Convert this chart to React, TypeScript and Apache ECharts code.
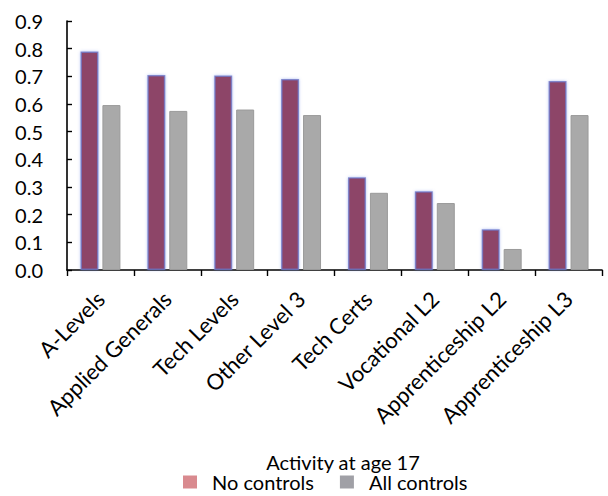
import React, { useEffect, useRef } from "react";
import * as echarts from "echarts";

const categories = [
  "A-Levels",
  "Applied Generals",
  "Tech Levels",
  "Other Level 3",
  "Tech Certs",
  "Vocational L2",
  "Apprenticeship L2",
  "Apprenticeship L3",
];
const noControls = [0.79, 0.705, 0.703, 0.69, 0.335, 0.285, 0.147, 0.683];
const allControls = [0.596, 0.575, 0.58, 0.56, 0.279, 0.242, 0.076, 0.56];
const seriesNames = ["No controls", "All controls"];
const legendTitle = "Activity at age 17";

const FONT = "Lato, 'DejaVu Sans', sans-serif";

export default function App() {
  const ref = useRef<HTMLDivElement>(null);
  useEffect(() => {
    if (!ref.current) return;
    const chart = echarts.init(ref.current, undefined, { renderer: "svg" });
    chart.setOption({
      animation: false,
      textStyle: { fontFamily: FONT, color: "#000" },
      grid: { left: 67, right: 6, top: 21, bottom: 226, containLabel: false },
      xAxis: {
        type: "category",
        data: categories,
        axisLine: { lineStyle: { color: "#000", width: 1.6 } },
        axisTick: { show: true, inside: false, length: 6, lineStyle: { color: "#000", width: 1.4 } },
        axisLabel: {
          rotate: 45,
          interval: 0,
          margin: 25,
          fontSize: 22,
          color: "#000",
          fontFamily: FONT,
        },
      },
      yAxis: {
        type: "value",
        min: 0,
        max: 0.9,
        interval: 0.1,
        splitLine: { show: false },
        axisLine: { show: true, lineStyle: { color: "#000", width: 1.6 } },
        axisTick: { show: true, inside: true, length: 5, lineStyle: { color: "#000", width: 1.4 } },
        axisLabel: {
          margin: 24,
          fontSize: 20,
          color: "#000",
          fontFamily: FONT,
          formatter: (v: number) => v.toFixed(1),
        },
      },
      legend: {
        left: 183,
        top: 471,
        padding: 0,
        itemWidth: 14,
        itemHeight: 13,
        itemGap: 26,
        icon: "rect",
        textStyle: { fontSize: 20, lineHeight: 22, color: "#000", fontFamily: FONT, padding: [0, 0, 0, 10] },
        data: [
          { name: seriesNames[0], itemStyle: { color: "#D98A8F", borderWidth: 0, shadowBlur: 0 } },
          { name: seriesNames[1], itemStyle: { color: "#A0A0A6", borderWidth: 0 } },
        ],
      },
      graphic: [
        {
          type: "text",
          x: 343,
          y: 462,
          style: {
            text: legendTitle,
            fontSize: 20,
            fontFamily: FONT,
            fill: "#000",
            textAlign: "center",
            textVerticalAlign: "middle",
          },
        },
      ],
      series: [
        {
          name: seriesNames[0],
          type: "bar",
          data: noControls,
          barWidth: 18,
          barGap: "22%",
          itemStyle: {
            color: "#8D4468",
            borderColor: "rgba(110,120,200,0.75)",
            borderWidth: 1.5,
            shadowColor: "rgba(100,130,230,0.55)",
            shadowBlur: 3,
          },
        },
        {
          name: seriesNames[1],
          type: "bar",
          data: allControls,
          barWidth: 18,
          itemStyle: {
            color: "#A9A9A9",
            borderColor: "#9A9A9A",
            borderWidth: 1,
          },
        },
      ],
    });
    return () => chart.dispose();
  }, []);
  return <div ref={ref} style={{ width: 608, height: 496, position: "absolute", left: 0, top: 0 }} />;
}
